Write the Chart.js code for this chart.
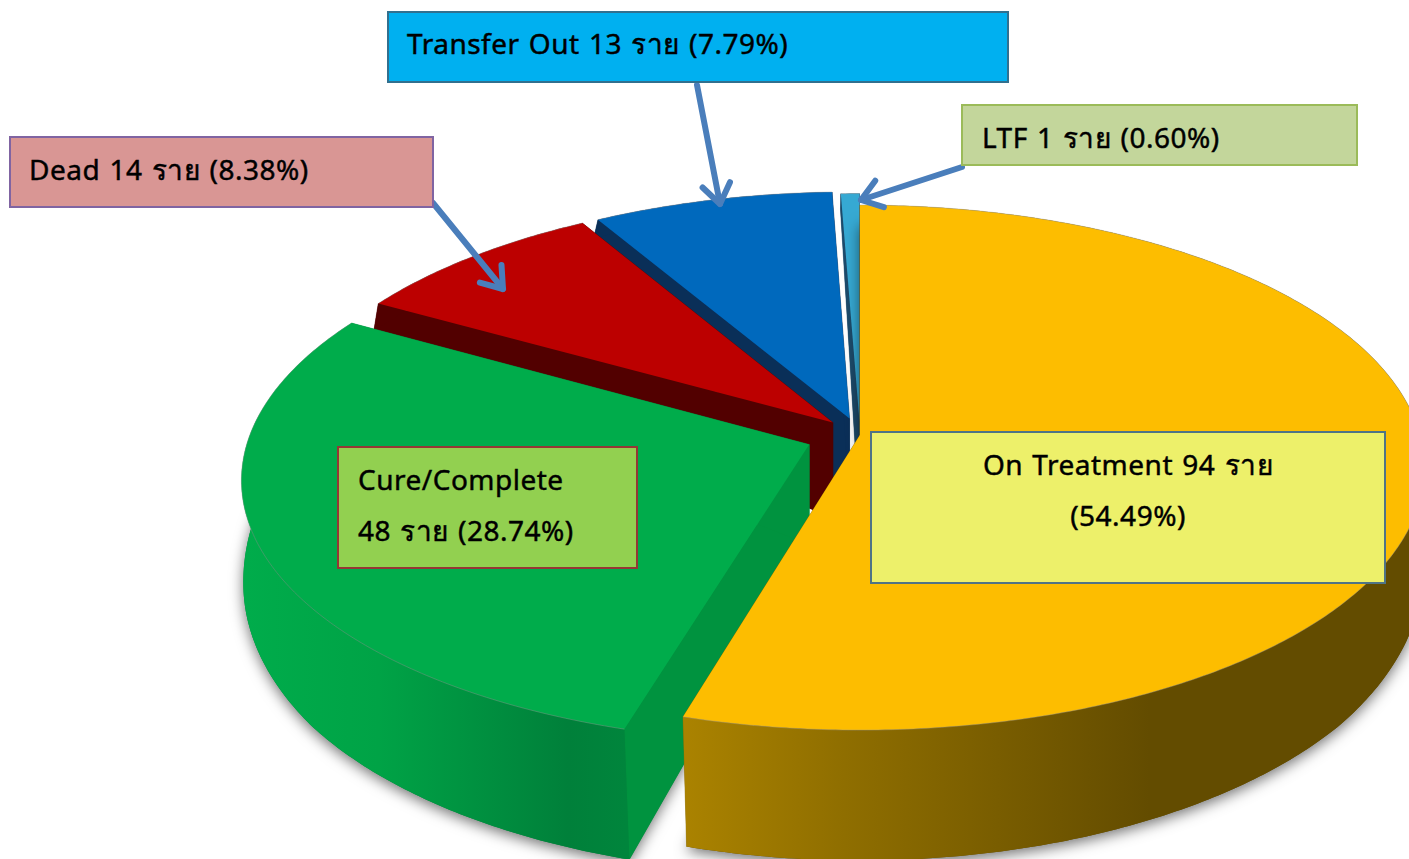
<!DOCTYPE html>
<html><head><meta charset="utf-8">
<script src="https://cdn.jsdelivr.net/npm/chart.js@4"></script>
<style>
html,body{margin:0;padding:0;background:#fff;width:1409px;height:859px;overflow:hidden}
#wrap{position:relative;width:1409px;height:859px}
canvas{position:absolute;left:0;top:0}
.box{position:absolute;box-sizing:border-box;font-family:"Noto Sans","Open Sans",sans-serif;font-size:28px;letter-spacing:.5px;word-spacing:1.5px;color:#000;white-space:nowrap;-webkit-text-stroke:.45px #000}
.box span{position:absolute;display:block;line-height:34px;transform:translateY(-50%)}
</style></head><body>
<div id="wrap"><canvas id="c" width="1409" height="859"></canvas></div>
<script>
const categories = ['On Treatment','Cure/Complete','Dead','Transfer Out','LTF'];
const counts = [94,48,14,13,1];
const percents = [54.49,28.74,8.38,7.79,0.60];
const topColors = ['#fdbd00','#00ac4b','#bc0000','#0069bd','#36a9d3'];
const sideColors = ['#614b00','#00843c','#520000','#0a2f58','#1c4a6a'];
const radialColors = ['#8a6a00','#00933f','#520000','#0a2f58','#1c4a6a'];
const explode = [0,156,110,108,90];

// projection of the pie plane: top face, and bottom face hanging below it
const topPlane = {cx:860,cy:435,A:560,B:258.5,k:0.124};
const botPlane = {cx:860,A:560,k:0.105};
const depthTable = [[-1.2,12],[-.55,28],[-.3,55],[-.1,92],[.2,110],[.6,124],[1.1,132]];
function depth(v){
  for(let i=1;i<depthTable.length;i++){
    const [a,da]=depthTable[i-1],[b,db]=depthTable[i];
    if(v<=b) return da+(db-da)*(Math.max(v,a)-a)/(b-a);
  }
  return depthTable[depthTable.length-1][1];
}
function projTop(u,v){const w=1-topPlane.k*v;return [topPlane.cx+topPlane.A*u/w,topPlane.cy+topPlane.B*v/w];}
function projBot(u,v){const w=1-botPlane.k*v;return [botPlane.cx+botPlane.A*u/w,projTop(u,v)[1]+depth(v)];}

const sym='ราย';
const labelBoxes=[
 {i:0,r:[870,431,1386,584],fill:'#edf06a',bd:'#4f7486',lines:[[`${categories[0]} ${counts[0]} ${sym}`,1128,464,'c'],[`(${percents[0].toFixed(2)}%)`,1128,515,'c']]},
 {i:1,r:[337,446,638,569],fill:'#92d050',bd:'#953735',lines:[[categories[1],358,479,'l'],[`${counts[1]} ${sym} (${percents[1].toFixed(2)}%)`,358,530,'l']]},
 {i:2,r:[9,136,434,208],fill:'#d99694',bd:'#8064a2',lines:[[`${categories[2]} ${counts[2]} ${sym} (${percents[2].toFixed(2)}%)`,29,169,'l']]},
 {i:3,r:[387,11,1009,83],fill:'#00b0f0',bd:'#31708f',lines:[[`${categories[3]} ${counts[3]} ${sym} (${percents[3].toFixed(2)}%)`,407,43,'l']]},
 {i:4,r:[961,104,1358,166],fill:'#c3d69b',bd:'#9bbb59',lines:[[`${categories[4]} ${counts[4]} ${sym} (${percents[4].toFixed(2)}%)`,982,137,'l']]}
];
const wrap=document.getElementById('wrap');
labelBoxes.forEach(b=>{
  const d=document.createElement('div');d.className='box';
  const [l,t,r,bt]=b.r;
  d.style.cssText+=`left:${l}px;top:${t}px;width:${r-l}px;height:${bt-t}px;background:${b.fill};border:2px solid ${b.bd}`;
  b.lines.forEach(([s,x,y,a])=>{
    const e=document.createElement('span');e.textContent=s;
    e.style.top=(y-t-2)+'px';
    e.style.left=(x-l-2)+'px';
    if(a==='c')e.style.transform='translate(-50%,-50%)';
    d.appendChild(e);
  });
  wrap.appendChild(d);
});

const arrows=[[697,85,720,204],[433,203,503,289],[962,167,861,200]];

function poly(ctx,pts){ctx.beginPath();pts.forEach((p,i)=>i?ctx.lineTo(p[0],p[1]):ctx.moveTo(p[0],p[1]));ctx.closePath();}

const pie3d={id:'pie3d',
 beforeDatasetsDraw(chart){
  const ctx=chart.ctx, arcs=chart.getDatasetMeta(0).data;
  const order=[4,3,2,1,0];
  order.forEach(i=>{
    const a=arcs[i], R=a.outerRadius, off=(a.options.offset||0)/4/R;
    const mid=(a.startAngle+a.endAngle)/2, ox=Math.cos(mid)*off, oy=Math.sin(mid)*off;
    const n=Math.max(2,Math.ceil((a.endAngle-a.startAngle)*90));
    const rimU=[];
    for(let j=0;j<=n;j++){const t=a.startAngle+(a.endAngle-a.startAngle)*j/n;rimU.push([ox+Math.cos(t),oy+Math.sin(t)]);}
    const top=[projTop(ox,oy),...rimU.map(p=>projTop(...p))];
    const bot=[projBot(ox,oy),...rimU.map(p=>projBot(...p))];
    ctx.save();
    if(i<2){ctx.shadowColor='rgba(0,0,0,.55)';ctx.shadowBlur=14;ctx.shadowOffsetX=0;ctx.shadowOffsetY=4;}
    poly(ctx,bot);ctx.fillStyle=sideColors[i];ctx.fill();
    ctx.restore();
    const qs=[[top[0],top[1],bot[1],bot[0]],[top[0],top[n+1],bot[n+1],bot[0]]];
    ctx.fillStyle=radialColors[i];
    qs.forEach(q=>{poly(ctx,q);ctx.fill();ctx.strokeStyle=radialColors[i];ctx.lineWidth=.5;ctx.stroke();});
    let wallFill=sideColors[i];
    if(i===0){const g=ctx.createLinearGradient(680,0,1150,0);g.addColorStop(0,'#ab8300');g.addColorStop(.35,'#8f6e00');g.addColorStop(1,'#634c00');wallFill=g;}
    if(i===1){const g=ctx.createLinearGradient(245,0,625,0);g.addColorStop(0,'#00ac4b');g.addColorStop(.35,'#00a346');g.addColorStop(.85,'#00803a');g.addColorStop(1,'#00853c');wallFill=g;}
    const band=[...top.slice(1),...bot.slice(1).reverse()];
    poly(ctx,band);ctx.fillStyle=wallFill;ctx.fill();
    poly(ctx,top);ctx.fillStyle=a.options.backgroundColor;ctx.fill();
    ctx.beginPath();top.slice(1).forEach((p,j)=>j?ctx.lineTo(p[0],p[1]):ctx.moveTo(p[0],p[1]));
    ctx.strokeStyle='rgba(150,150,150,.4)';ctx.lineWidth=1;ctx.stroke();
  });
  ctx.save();ctx.strokeStyle='#4a7ebb';ctx.lineWidth=6;ctx.lineCap='round';ctx.lineJoin='round';
  arrows.forEach(([x1,y1,x2,y2])=>{
    const t=Math.atan2(y2-y1,x2-x1),h=24,s=.62;
    ctx.beginPath();ctx.moveTo(x1,y1);ctx.lineTo(x2,y2);ctx.stroke();
    ctx.beginPath();ctx.moveTo(x2-h*Math.cos(t-s),y2-h*Math.sin(t-s));ctx.lineTo(x2,y2);ctx.lineTo(x2-h*Math.cos(t+s),y2-h*Math.sin(t+s));ctx.stroke();
  });
  ctx.restore();
  return false;
 }
};

new Chart(document.getElementById('c'),{
  type:'pie',
  data:{labels:categories,datasets:[{data:percents,backgroundColor:topColors,offset:explode,borderWidth:0}]},
  options:{responsive:false,animation:false,radius:400,
    plugins:{legend:{display:false},tooltip:{enabled:false}},events:[]},
  plugins:[pie3d]
});
</script></body></html>
